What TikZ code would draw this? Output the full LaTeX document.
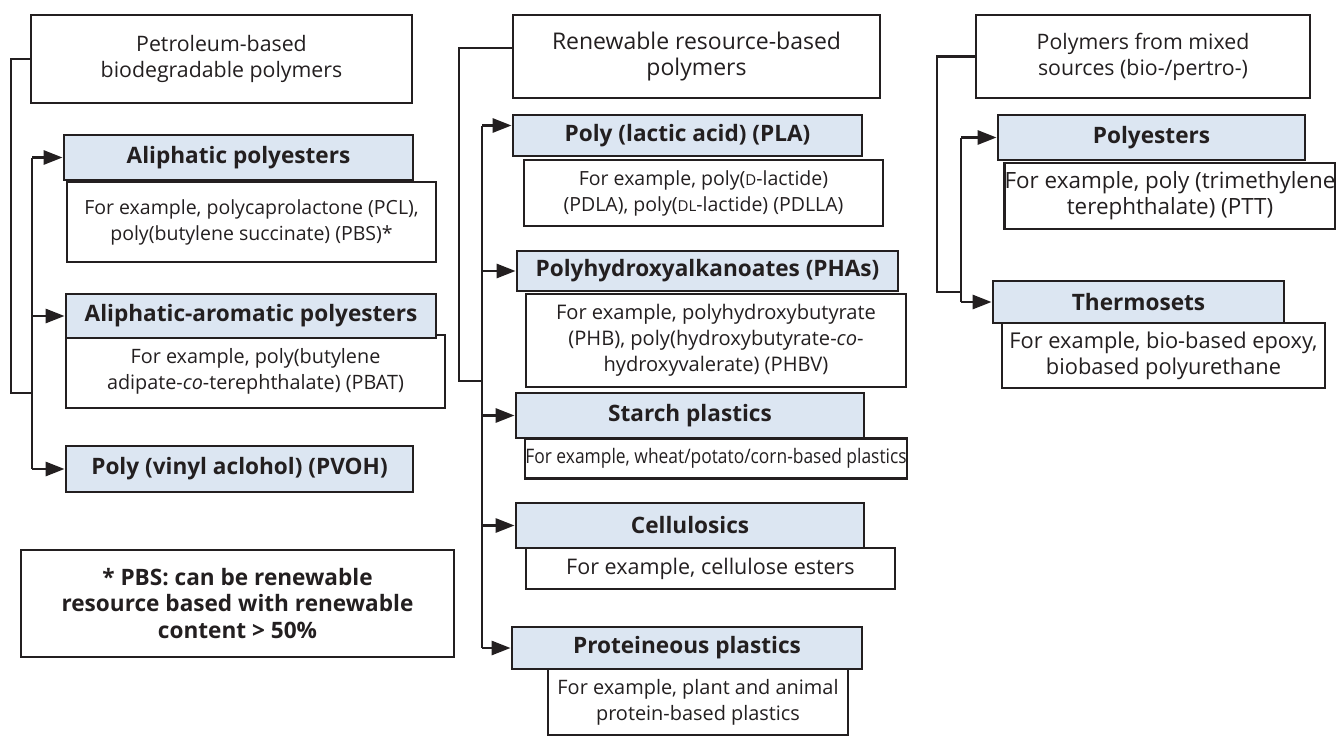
\documentclass[tikz,border=0pt]{standalone}
\usepackage{fontspec}
\usepackage{graphicx}
\setmainfont{Open Sans}
\usetikzlibrary{arrows.meta}
\definecolor{ink}{HTML}{231F20}
\definecolor{catblue}{HTML}{DCE6F2}
\newcommand{\smc}[1]{{\fontsize{15}{15}\selectfont #1}}
\newcommand{\fs}[1]{\fontsize{#1}{26}\selectfont}
\tikzset{
  base/.style={draw=ink, line width=2.8pt, inner sep=0pt, align=center, text=ink,
               font=\fs{19.5}},
  hdr/.style={base, fill=white},
  exbox/.style={base, fill=white},
  cat/.style={base, fill=catblue, font=\fs{22.6}\bfseries},
  note/.style={base, fill=white, font=\fontsize{22.6}{26.5}\selectfont\bfseries},
  conn/.style={draw=ink, line width=2.8pt},
  arr/.style={conn, -{Triangle[length=19pt,width=14pt]}},
}
\begin{document}
\begin{tikzpicture}[x=1pt,y=-1pt]
\useasboundingbox (0,0) rectangle (1336,736);

% ---------------- left column ----------------
\node[hdr, font=\fs{21.3}, minimum width=381, minimum height=88] (h1) at (221.5,59)
  {Petroleum-based\\biodegradable polymers};
\node[exbox, minimum width=369, minimum height=80] (ex1) at (251.5,222)
  {For example, polycaprolactone (PCL),\\poly(butylene succinate) (PBS)*};
\node[exbox, font=\fs{19.8}, minimum width=379, minimum height=73] (ex2) at (255.5,371.5)
  {For example, poly(butylene\\adipate-\textit{co}-terephthalate) (PBAT)};
\node[cat, minimum width=349, minimum height=45] (ap) at (238.5,157.5) {Aliphatic polyesters};
\node[cat, minimum width=370, minimum height=44] (aa) at (251,316) {Aliphatic-aromatic polyesters};
\node[cat, minimum width=347, minimum height=46] (pv) at (239.5,469) {Poly (vinyl aclohol) (PVOH)};
\node[note, minimum width=433, minimum height=107] (fn) at (237.5,603.5)
  {* PBS: can be renewable\\resource based with renewable\\content > 50\%};

\coordinate (L) at (32,0);
\coordinate (b1) at (11,393);
\coordinate (j1) at (32,393);
\draw[conn] (h1.west) -| (b1) -- (j1);
\draw[conn] (L |- ap.west) -- (L |- pv.west);
\draw[arr] (L |- ap.west) -- (ap.west);
\draw[arr] (L |- aa.west) -- (aa.west);
\draw[arr] (L |- pv.west) -- (pv.west);

% ---------------- middle column ----------------
\node[hdr, font=\fs{23}, minimum width=367, minimum height=83] (h2) at (696.5,56.5)
  {Renewable resource-based\\polymers};
\node[exbox, minimum width=359, minimum height=66] (plaex) at (703.5,193)
  {For example, poly(\smc{D}-lactide)\\(PDLA), poly(\smc{DL}-lactide) (PDLLA)};
\node[exbox, font=\fs{20.1}, minimum width=380, minimum height=93] (phaex) at (716,340.5)
  {For example, polyhydroxybutyrate\\(PHB), poly(hydroxybutyrate-\textit{co}-\\hydroxyvalerate) (PHBV)};
\node[exbox, font=\fs{20}, minimum width=382, minimum height=40] (stex) at (716,458.5)
  {\scalebox{0.87}[1]{For example, wheat/potato/corn-based plastics}};
\node[exbox, font=\fs{21.5}, minimum width=369, minimum height=41] (celex) at (710.5,568.5)
  {For example, cellulose esters};
\node[exbox, font=\fs{19.9}, minimum width=300, minimum height=66] (proex) at (698,702)
  {For example, plant and animal\\protein-based plastics};
\node[cat, minimum width=349, minimum height=41] (pla) at (687.5,135.5) {Poly (lactic acid) (PLA)};
\node[cat, minimum width=381, minimum height=40] (pha) at (707.5,271) {Polyhydroxyalkanoates (PHAs)};
\node[cat, minimum width=348, minimum height=45] (st) at (690,415.5) {Starch plastics};
\node[cat, minimum width=348, minimum height=45] (cel) at (690,525.5) {Cellulosics};
\node[cat, minimum width=350, minimum height=42] (pro) at (687,648) {Proteineous plastics};

\coordinate (M) at (482,0);
\coordinate (b2) at (459,381);
\coordinate (j2) at (482,381);
\coordinate (plain) at ([yshift=10pt]pla.west);
\draw[conn] ([yshift=8.5pt]h2.west) -| (b2) -- (j2);
\draw[conn] (M |- plain) -- (M |- pro.west);
\draw[arr] (M |- plain) -- (plain);
\draw[arr] (M |- pha.west) -- (pha.west);
\draw[arr] (M |- st.west) -- (st.west);
\draw[arr] (M |- cel.west) -- (cel.west);
\draw[arr] (M |- pro.west) -- (pro.west);

% ---------------- right column ----------------
\node[hdr, font=\fs{21.3}, minimum width=334, minimum height=83] (h3) at (1143,56.5)
  {Polymers from mixed\\sources (bio-/pertro-)};
\node[exbox, font=\fs{22.4}, minimum width=326, minimum height=66] (peex) at (1170,196)
  {For example, poly (trimethylene\\terephthalate) (PTT)};
\node[exbox, font=\fs{21.8}, minimum width=323, minimum height=65] (thex) at (1163.5,355.5)
  {For example, bio-based epoxy,\\biobased polyurethane};
\node[cat, minimum width=307, minimum height=45] (pe) at (1151.5,137.5) {Polyesters};
\node[cat, minimum width=291, minimum height=42] (th) at (1138.5,302) {Thermosets};

\coordinate (R) at (961,0);
\coordinate (b3) at (937,292);
\coordinate (j3) at (961,292);
\draw[conn] (h3.west) -| (b3) -- (j3);
\draw[conn] (R |- pe.west) -- (R |- th.west);
\draw[arr] (R |- pe.west) -- (pe.west);
\draw[arr] (R |- th.west) -- (th.west);
\end{tikzpicture}
\end{document}
